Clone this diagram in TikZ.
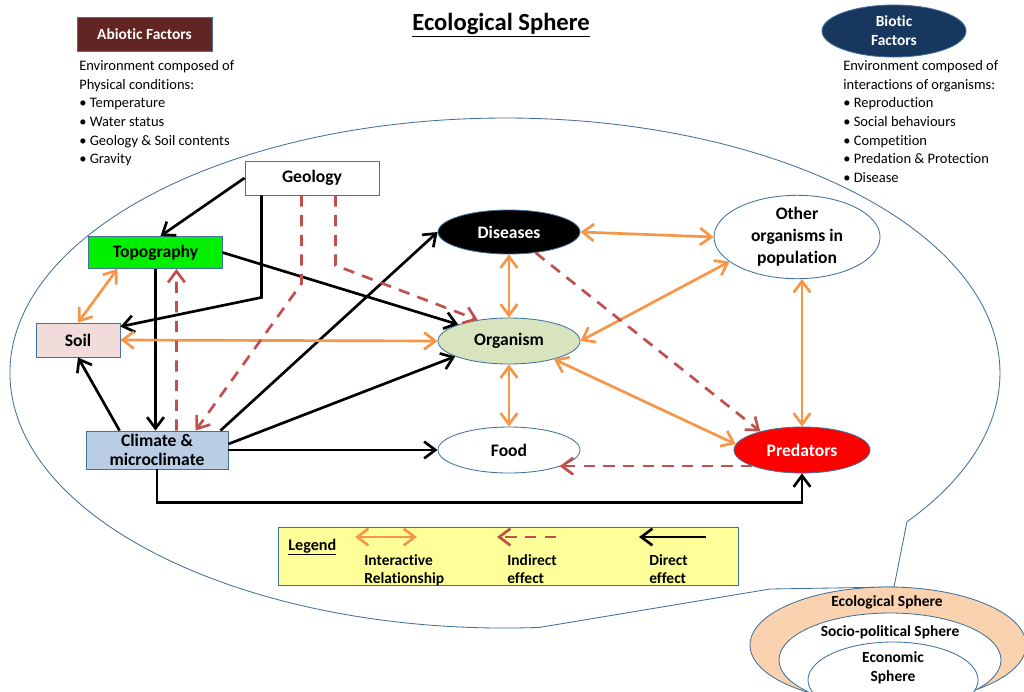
\documentclass[tikz,border=0pt]{standalone}
\usepackage{fontspec}
\setmainfont[Ligatures=NoCommon]{Carlito}
\usetikzlibrary{shapes.geometric,arrows.meta,calc}
\definecolor{rimblue}{HTML}{41719C}
\definecolor{abioticred}{HTML}{632523}
\definecolor{bioticblue}{HTML}{17375E}
\definecolor{topogreen}{HTML}{00F000}
\definecolor{orggreen}{HTML}{D7E4BD}
\definecolor{soilpink}{HTML}{F2DCDB}
\definecolor{climblue}{HTML}{B9CDE5}
\definecolor{intorange}{HTML}{F79646}
\definecolor{indred}{HTML}{C0504D}
\definecolor{legyellow}{HTML}{FFFF99}
\definecolor{spherepeach}{HTML}{FAD2B0}
\tikzset{factbox/.style={draw=rimblue, line width=0.6pt, inner sep=0pt, align=center, font=\fontsize{12.5}{15}\selectfont\bfseries},
         factoval/.style={factbox, ellipse},
         direct/.style={black, line width=1.9pt, -{Straight Barb[length=0.28cm,width=0.42cm]}},
         indirect/.style={indred, line width=1.9pt, dash pattern=on 8pt off 6pt, -{Straight Barb[length=0.28cm,width=0.42cm]}},
         interact/.style={intorange, line width=1.9pt, {Straight Barb[length=0.28cm,width=0.42cm]}-{Straight Barb[length=0.28cm,width=0.42cm]}},
         notes/.style={anchor=north west, inner sep=0pt, align=left, font=\fontsize{10.3}{13.3}\selectfont},
         legtext/.style={anchor=north west, inner sep=0pt, align=left, font=\fontsize{11}{12.8}\selectfont\bfseries},
         spheretext/.style={font=\fontsize{11}{13.5}\selectfont\bfseries, align=center, inner sep=0pt}}

\begin{document}
\begin{tikzpicture}[x=0.025cm, y=-0.025cm]
       \useasboundingbox[fill=white] (0,0) rectangle (1024,691);
       \draw[rimblue, line width=0.6pt] (539.5,627.4) arc[start angle=86, end angle=395.7, x radius=495, y radius=255]
             -- (894,587) -- (770,589) -- cycle;
       \begin{scope}
        \clip (0,0) rectangle (1024,691);
        \draw[rimblue, line width=0.6pt, fill=spherepeach] (888,645) ellipse [x radius=138, y radius=58];
        \draw[rimblue, line width=0.6pt, fill=white] (890,660) ellipse [x radius=111, y radius=47];
        \draw[rimblue, line width=0.6pt, fill=white] (893,680) ellipse [x radius=85, y radius=38];
       \end{scope}
       \node[spheretext] (eco) at (887,602) {Ecological Sphere};
       \node[spheretext] (socio) at (890,632) {Socio-political Sphere};
       \node[spheretext] (econ) at (893,668) {Economic\\Sphere};

       \node[font=\fontsize{17.5}{20}\selectfont\bfseries] (title) at (501,25) {\underline{Ecological Sphere}};
       \node[factbox, fill=abioticred, text=white, font=\fontsize{11}{13}\selectfont\bfseries, minimum width=3.375cm, minimum height=0.85cm] (abio) at (144.5,34) {Abiotic Factors};
       \node[notes] (abiotext) at (79,60) {Environment composed of\\Physical conditions:\\\textbullet\ Temperature\\\textbullet\ Water status\\\textbullet\ Geology \& Soil contents\\\textbullet\ Gravity};
       \node[factoval, fill=bioticblue, text=white, font=\fontsize{11}{13.5}\selectfont\bfseries, minimum width=3.6cm, minimum height=1.3cm] (bio) at (894,31) {Biotic\\Factors};
       \node[notes] (biotext) at (843,60) {Environment composed of\\interactions of organisms:\\\textbullet\ Reproduction\\\textbullet\ Social behaviours\\\textbullet\ Competition\\\textbullet\ Predation \& Protection\\\textbullet\ Disease};

       \node[factbox, fill=white, minimum width=3.35cm, minimum height=0.85cm] (geo) at (312,178) {Geology};
       \node[factbox, fill=topogreen, minimum width=3.33cm, minimum height=0.8cm] (topo) at (155.5,252.5) {Topography};
       \node[factbox, fill=soilpink, minimum width=2.1cm, minimum height=0.85cm] (soil) at (78,340) {Soil};
       \node[factbox, fill=climblue, minimum width=3.55cm, minimum height=0.95cm, font=\fontsize{12.5}{13.5}\selectfont\bfseries] (clim) at (157,450) {Climate \&\\microclimate};
       \node[factoval, fill=black, text=white, minimum width=3.55cm, minimum height=1.1cm] (dis) at (509,232) {Diseases};
       \node[factoval, fill=orggreen, minimum width=3.55cm, minimum height=1.15cm] (org) at (509,341) {Organism};
       \node[factoval, fill=white, minimum width=3.55cm, minimum height=1.15cm] (food) at (509,450) {Food};
       \node[factoval, fill=white, minimum width=4.15cm, minimum height=1.65cm, font=\fontsize{12.5}{15.6}\selectfont\bfseries] (oth) at (797,237) {Other\\organisms in\\population};
       \node[factoval, fill=red, text=white, minimum width=3.4cm, minimum height=1.15cm] (pred) at (802,450) {Predators};

       \draw[direct] (geo.west) -- ($(topo.north)+(5,0)$);
       \draw[direct] ($(geo.south west)+(17,0)$) -- ++(0,102) -- ($(soil.north east)+(0,4)$);
       \draw[direct] (topo.south) -- (topo.south |- clim.north);
       \draw[direct] (topo.east) -- (org.162);
       \draw[direct] ($(clim.north west)+(34,0)$) -- (soil.south);
       \draw[direct] ($(clim.north east)+(-8,0)$) -- (dis.west);
       \draw[direct] ($(clim.east)+(0,-6)$) -- (org.196);
       \draw[direct] (clim.east) -- (food.west);
       \draw[direct] (clim.south) -- ++(0,33) -| (pred.south);

       \draw[interact] ($(topo.south west)+(29,0)$) -- (soil.north);
       \draw[interact] (soil.east) -- (org.west);
       \draw[interact] (dis.south) -- (org.north);
       \draw[interact] (org.south) -- (food.north);
       \draw[interact] (dis.east) -- (oth.west);
       \draw[interact] (oth.200) -- (org.east);
       \draw[interact] (org.338) -- (pred.175);
       \draw[interact] (oth.south -| pred.north) -- (pred.north);

       \draw[indirect] ($(geo.south west)+(57,0)$) -- ++(0,88) -- ($(clim.north west)+(110,0)$);
       \draw[indirect] ($(geo.south west)+(91,0)$) -- ++(0,70) -- (org.146);
       \draw[indirect] ($(clim.north west)+(91,0)$) -- ($(topo.south west)+(88,0)$);
       \draw[indirect] (dis.322) -- (pred.156);
       \draw[indirect] (pred.198) -- (pred.198 -| food.342);

       \node[draw=rimblue, line width=0.6pt, fill=legyellow, minimum width=11.5cm, minimum height=1.45cm, inner sep=0pt] (legend) at (508.5,556) {};
       \node[anchor=base west, inner sep=0pt, font=\fontsize{11.5}{13}\selectfont\bfseries] (legtitle) at (288,550) {\underline{Legend}};
       \coordinate (intA) at (355,537);
       \coordinate (intB) at (417,537);
       \coordinate (indA) at (556,537);
       \coordinate (indB) at (497,537);
       \coordinate (dirA) at (706,537);
       \coordinate (dirB) at (639,537);
       \draw[interact] (intA) -- (intB);
       \draw[indirect] (indA) -- (indB);
       \draw[direct] (dirA) -- (dirB);
       \node[legtext] (intlab) at (364,554) {Interactive\\Relationship};
       \node[legtext] (indlab) at (507,554) {Indirect\\effect};
       \node[legtext] (dirlab) at (649,554) {Direct\\effect};
\end{tikzpicture}
\end{document}
